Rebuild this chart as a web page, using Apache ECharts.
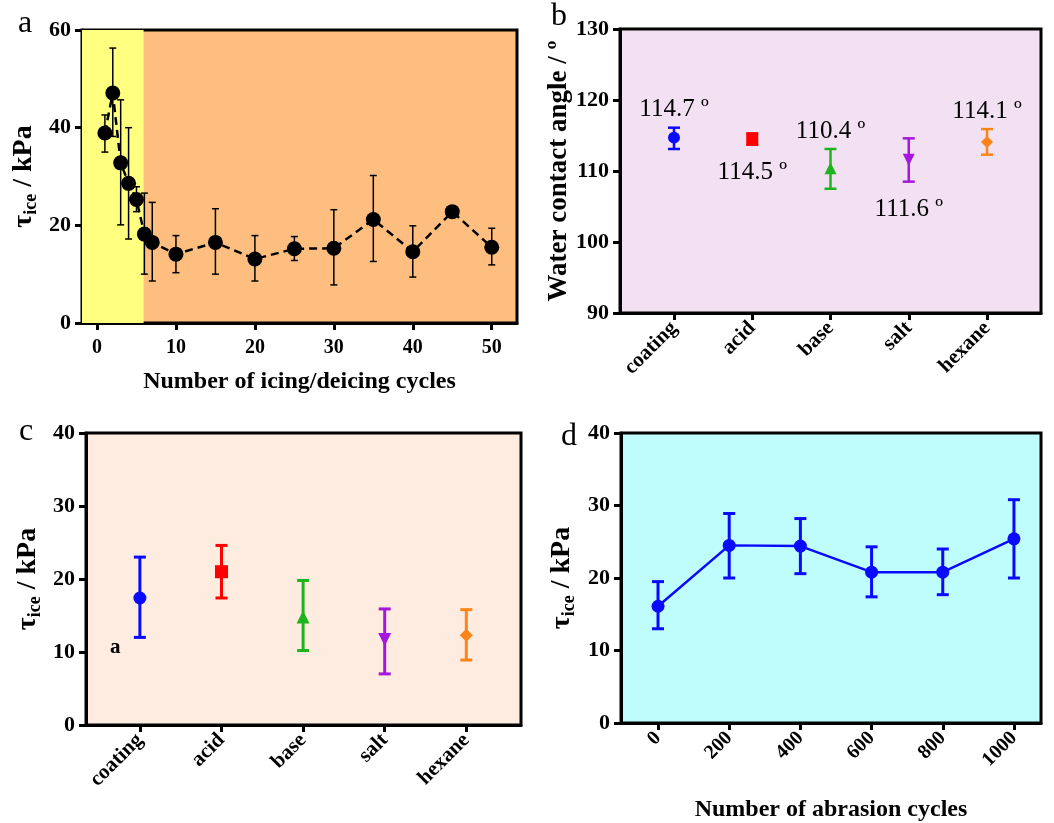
<!DOCTYPE html>
<html>
<head>
<meta charset="utf-8">
<script src="https://cdn.jsdelivr.net/npm/echarts@6/dist/echarts.min.js"></script>
<style>
  html, body { margin: 0; padding: 0; background: #fff; }
  #chart { width: 1054px; height: 823px; }
</style>
</head>
<body>
<div id="chart"></div>
<script>
// panel a: ice adhesion over icing/deicing cycles
const cyclesA = [1, 2, 3, 4, 5, 6, 7, 10, 15, 20, 25, 30, 35, 40, 45, 50];
const tauA = [38.9, 47.1, 32.8, 28.6, 25.3, 18.2, 16.5, 14.1, 16.5, 13.1, 15.2, 15.3, 21.2, 14.6, 22.8, 15.5];
const tauAHigh = [42.6, 56.3, 45.7, 40.0, 27.9, 26.6, 24.7, 17.9, 23.4, 17.9, 17.7, 23.2, 30.2, 19.9, 23.2, 19.4];
const tauALow = [35.0, 38.2, 20.1, 17.2, 22.8, 10.0, 8.6, 10.3, 10.0, 8.6, 12.8, 7.8, 12.6, 9.4, 22.4, 11.9];
const ticksA = [0, 10, 20, 30, 40, 50];
const yellowEnd = 5.9;

// panel b: water contact angle after treatments
const treatments = ['coating', 'acid', 'base', 'salt', 'hexane'];
const angle = [114.7, 114.5, 110.4, 111.6, 114.1];
const angleHigh = [116.1, 115.3, 113.1, 114.6, 115.9];
const angleLow = [113.1, 113.7, 107.5, 108.5, 112.3];
const angleText = ['114.7 º', '114.5 º', '110.4 º', '111.6 º', '114.1 º'];

// panel c: ice adhesion after treatments
const tauC = [17.4, 21.0, 14.8, 11.7, 12.3];
const tauCHigh = [23.0, 24.6, 19.8, 15.9, 15.8];
const tauCLow = [12.0, 17.4, 10.2, 7.0, 8.9];

// panel d: ice adhesion over abrasion cycles
const abrasion = [0, 200, 400, 600, 800, 1000];
const tauD = [16.1, 24.5, 24.4, 20.8, 20.8, 25.4];
const tauDHigh = [19.5, 28.9, 28.2, 24.3, 24.0, 30.8];
const tauDLow = [13.0, 20.0, 20.6, 17.4, 17.7, 20.0];

const colors = ['#0a0aff', '#ff0000', '#1eb41e', '#a616dc', '#ff8418'];
const symbols = ['circle', 'rect', 'triangle', 'triangle', 'diamond'];
const symbolRotate = [0, 0, 0, 180, 0];
const labelPlace = [['top', 10], ['bottom', 15], ['top', 18], ['bottom', 31], ['top', 12]];

const serif = '"Liberation Serif", "Times New Roman", serif';
const idx = treatments.map((t, i) => i);

function tickLabel(extra) {
  return Object.assign({
    color: '#000', fontFamily: serif, fontWeight: 'bold', fontSize: 22
  }, extra);
}
const axisLine = { show: true, onZero: false, lineStyle: { color: '#000', width: 3 } };
const axisTick = { show: true, inside: false, length: 7, lineStyle: { color: '#000', width: 3 } };

const tauName = '{t|τ}{s|ice}{t| / kPa}';
const tauRich = {
  t: { fontFamily: serif, fontWeight: 'bold', fontSize: 28, color: '#000' },
  s: { fontFamily: serif, fontWeight: 'bold', fontSize: 18, color: '#000', padding: [14, 0, 0, 0] }
};
const xNameStyle = { fontFamily: serif, fontWeight: 'bold', fontSize: 24, color: '#000' };

function errorBars(xi, yi, xs, lows, highs, color, width, cap) {
  return {
    type: 'custom',
    xAxisIndex: xi,
    yAxisIndex: yi,
    z: 3,
    silent: true,
    data: xs.map((x, i) => [x, lows[i], highs[i], i]),
    encode: { x: 0, y: [1, 2] },
    renderItem: function (params, api) {
      const x = api.value(0);
      const lo = api.coord([x, api.value(1)]);
      const hi = api.coord([x, api.value(2)]);
      const c = Array.isArray(color) ? color[api.value(3)] : color;
      const st = { stroke: c, lineWidth: width };
      return {
        type: 'group',
        children: [
          { type: 'line', shape: { x1: lo[0], y1: lo[1], x2: hi[0], y2: hi[1] }, style: st },
          { type: 'line', shape: { x1: hi[0] - cap / 2, y1: hi[1], x2: hi[0] + cap / 2, y2: hi[1] }, style: st },
          { type: 'line', shape: { x1: lo[0] - cap / 2, y1: lo[1], x2: lo[0] + cap / 2, y2: lo[1] }, style: st }
        ]
      };
    }
  };
}

function groupPoints(values, size, withLabels) {
  return values.map((v, i) => {
    const item = {
      value: [i, v],
      symbol: symbols[i],
      symbolRotate: symbolRotate[i],
      symbolSize: size,
      itemStyle: { color: colors[i], opacity: 1 }
    };
    if (withLabels) {
      item.label = {
        show: true,
        formatter: angleText[i],
        position: labelPlace[i][0],
        distance: labelPlace[i][1],
        fontFamily: serif,
        fontSize: 25,
        color: '#000',
        textBorderWidth: 0
      };
    }
    return item;
  });
}

const myChart = echarts.init(document.getElementById('chart'));

myChart.setOption({
  backgroundColor: '#fff',
  animation: false,
  grid: [
    { left: 82, top: 30, width: 435, height: 293, show: true, backgroundColor: '#fdbe80', borderColor: '#000', borderWidth: 3 },
    { left: 620, top: 29, width: 421, height: 284, show: true, backgroundColor: '#f2e1f2', borderColor: '#000', borderWidth: 3 },
    { left: 86, top: 433, width: 435, height: 292, show: true, backgroundColor: '#fdecdf', borderColor: '#000', borderWidth: 3 },
    { left: 621, top: 433, width: 420, height: 290, show: true, backgroundColor: '#bffcfc', borderColor: '#000', borderWidth: 3 }
  ],
  xAxis: [
    {
      gridIndex: 0, type: 'value', min: -1.9, max: 53.2,
      splitLine: { show: false }, axisLine: axisLine,
      axisTick: Object.assign({ customValues: ticksA }, axisTick),
      axisLabel: tickLabel({ customValues: ticksA, margin: 15, fontSize: 20 }),
      name: 'Number of icing/deicing cycles', nameLocation: 'middle', nameGap: 47,
      nameTextStyle: xNameStyle
    },
    {
      gridIndex: 1, type: 'value', min: -0.69, max: 4.69,
      splitLine: { show: false }, axisLine: axisLine,
      axisTick: Object.assign({ customValues: idx }, axisTick),
      axisLabel: tickLabel({ customValues: idx, rotate: 45, margin: 12, fontSize: 21,
        formatter: v => treatments[Math.round(v)] })
    },
    {
      gridIndex: 2, type: 'value', min: -0.66, max: 4.67,
      splitLine: { show: false }, axisLine: axisLine,
      axisTick: Object.assign({ customValues: idx }, axisTick),
      axisLabel: tickLabel({ customValues: idx, rotate: 45, margin: 12, fontSize: 21,
        formatter: v => treatments[Math.round(v)] })
    },
    {
      gridIndex: 3, type: 'value', min: -104, max: 1076,
      splitLine: { show: false }, axisLine: axisLine,
      axisTick: Object.assign({ customValues: abrasion }, axisTick),
      axisLabel: tickLabel({ customValues: abrasion, rotate: 45, margin: 12, fontSize: 20,
        formatter: v => String(v) }),
      name: 'Number of abrasion cycles', nameLocation: 'middle', nameGap: 75,
      nameTextStyle: xNameStyle
    }
  ],
  yAxis: [
    {
      gridIndex: 0, type: 'value', min: 0, max: 60, interval: 20,
      splitLine: { show: false }, axisLine: axisLine, axisTick: axisTick,
      axisLabel: tickLabel({ margin: 11 }),
      name: tauName, nameLocation: 'middle', nameGap: 42, nameRotate: 90,
      nameTextStyle: { rich: tauRich }
    },
    {
      gridIndex: 1, type: 'value', min: 90, max: 130, interval: 10,
      splitLine: { show: false }, axisLine: axisLine, axisTick: axisTick,
      axisLabel: tickLabel({ margin: 11 }),
      name: 'Water contact angle / º', nameLocation: 'middle', nameGap: 45, nameRotate: 90,
      nameTextStyle: { fontFamily: serif, fontWeight: 'bold', fontSize: 27, color: '#000' }
    },
    {
      gridIndex: 2, type: 'value', min: 0, max: 40, interval: 10,
      splitLine: { show: false }, axisLine: axisLine, axisTick: axisTick,
      axisLabel: tickLabel({ margin: 11 }),
      name: tauName, nameLocation: 'middle', nameGap: 42, nameRotate: 90,
      nameTextStyle: { rich: tauRich }
    },
    {
      gridIndex: 3, type: 'value', min: 0, max: 40, interval: 10,
      splitLine: { show: false }, axisLine: axisLine, axisTick: axisTick,
      axisLabel: tickLabel({ margin: 11 }),
      name: tauName, nameLocation: 'middle', nameGap: 43, nameRotate: 90,
      nameTextStyle: { rich: tauRich }
    }
  ],
  graphic: [
    { type: 'text', left: 18, top: 8, style: { text: 'a', font: '32px ' + serif, fill: '#000' } },
    { type: 'text', left: 551, top: 1, style: { text: 'b', font: '32px ' + serif, fill: '#000' } },
    { type: 'text', left: 19, top: 416, style: { text: 'c', font: '32px ' + serif, fill: '#000' } },
    { type: 'text', left: 561, top: 421, style: { text: 'd', font: '32px ' + serif, fill: '#000' } },
    { type: 'text', left: 110, top: 637, style: { text: 'a', font: 'bold 21px ' + serif, fill: '#000' } }
  ],
  series: [
    // panel a
    {
      type: 'line', xAxisIndex: 0, yAxisIndex: 0, z: 2,
      data: cyclesA.map((c, i) => [c, tauA[i]]),
      symbol: 'circle', symbolSize: 15,
      itemStyle: { color: '#000' },
      lineStyle: { color: '#000', width: 2.5, type: [8, 5] },
      markArea: {
        silent: true,
        itemStyle: { color: '#ffff80' },
        data: [[{ xAxis: -1.9 }, { xAxis: yellowEnd }]]
      }
    },
    errorBars(0, 0, cyclesA, tauALow, tauAHigh, '#000', 1.5, 7),
    // panel b
    errorBars(1, 1, idx, angleLow, angleHigh, colors, 2.5, 12),
    {
      type: 'scatter', xAxisIndex: 1, yAxisIndex: 1, z: 4,
      data: groupPoints(angle, 12, true)
    },
    // panel c
    errorBars(2, 2, idx, tauCLow, tauCHigh, colors, 3, 12),
    {
      type: 'scatter', xAxisIndex: 2, yAxisIndex: 2, z: 4,
      data: groupPoints(tauC, 13, false)
    },
    // panel d
    {
      type: 'line', xAxisIndex: 3, yAxisIndex: 3, z: 4,
      data: abrasion.map((a, i) => [a, tauD[i]]),
      symbol: 'circle', symbolSize: 13,
      itemStyle: { color: '#0a0aff' },
      lineStyle: { color: '#0a0aff', width: 2.5 }
    },
    errorBars(3, 3, abrasion, tauDLow, tauDHigh, '#0a0aff', 3, 12)
  ]
});
</script>
</body>
</html>
